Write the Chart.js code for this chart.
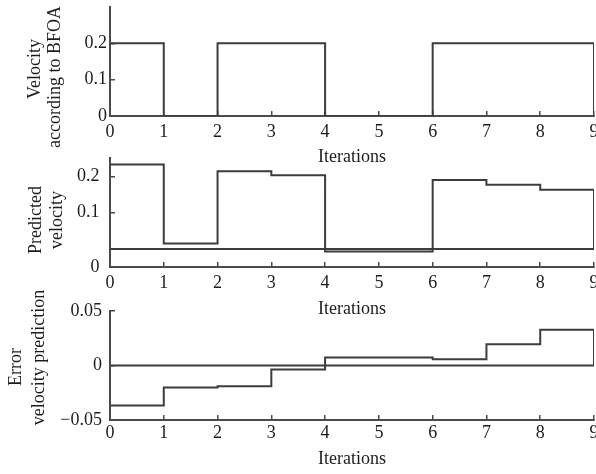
<!DOCTYPE html>
<html>
<head>
<meta charset="utf-8">
<script src="https://cdn.jsdelivr.net/npm/chart.js@4/dist/chart.umd.min.js"></script>
<style>
  html, body { margin: 0; padding: 0; background: #ffffff; }
  #wrap { position: relative; width: 596px; height: 474px; overflow: hidden; background: #ffffff; }
  #wrap canvas { position: absolute; left: 0; }
</style>
</head>
<body>
<div id="wrap">
  <canvas id="c1" width="596" height="168" style="top:0px;width:596px;height:168px"></canvas>
  <canvas id="c2" width="596" height="170" style="top:150px;width:596px;height:170px"></canvas>
  <canvas id="c3" width="596" height="185" style="top:285px;width:596px;height:185px"></canvas>
</div>
<script>
// ---- data ----
const iterations = [0, 1, 2, 3, 4, 5, 6, 7, 8, 9];
const xTickLabels = ['0', '1', '2', '3', '4', '5', '6', '7', '8', '9'];
const bfoaVelocity = [0.2, 0, 0.2, 0.2, 0, 0, 0.2, 0.2, 0.2, 0];
const predictedVelocity = [0.233, 0.015, 0.214, 0.203, -0.007, -0.007, 0.19, 0.177, 0.163, 0];
const predictionError = [-0.0367, -0.0202, -0.019, -0.0037, 0.0073, 0.0073, 0.0058, 0.0195, 0.0327, 0];
const zeroLine = [0, 0, 0, 0, 0, 0, 0, 0, 0, 0];
const topTickValues = [0, 0.1, 0.2];
const topTickLabels = ['0', '0.1', '0.2'];
const midTickValues = [-0.05, 0.1, 0.2];
const midTickLabels = ['0', '0.1', '0.2'];
const errTickValues = [-0.05, 0, 0.05];
const errTickLabels = ['\u22120.05', '0', '0.05'];
const xTitle = 'Iterations';
const topYTitle = ['Velocity', 'according to BFOA'];
const midYTitle = ['Predicted', 'velocity'];
const errYTitle = ['Error', 'velocity prediction'];

// ---- styles ----
const FONT = { family: "'Liberation Serif', 'DejaVu Serif', serif", size: 18, lineHeight: 1.2 };
const TEXT = '#1c1c1c';
const LINE = '#3c3c3c';
const AXIS = '#4a4a4a';

const yTitlePlugin = {
  id: 'ytitles',
  afterDraw(chart, args, opts) {
    const ctx = chart.ctx;
    ctx.save();
    ctx.font = FONT.size + 'px ' + FONT.family;
    ctx.fillStyle = TEXT;
    ctx.textAlign = 'center';
    ctx.textBaseline = 'middle';
    opts.lines.forEach((t, i) => {
      ctx.save();
      ctx.translate(opts.pos[i][0], opts.pos[i][1]);
      ctx.rotate(-Math.PI / 2);
      ctx.fillText(t, 0, 0);
      ctx.restore();
    });
    ctx.restore();
  }
};

function makePanel(id, cfg) {
  const canvas = document.getElementById(id);
  const datasets = cfg.series.map(s => ({
    data: iterations.map((x, i) => ({ x: x, y: s[i] })),
    stepped: true,
    borderColor: LINE,
    borderWidth: 2,
    pointRadius: 0,
    fill: false
  }));
  return new Chart(canvas, {
    type: 'line',
    data: { datasets: datasets },
    plugins: [yTitlePlugin],
    options: {
      responsive: false,
      animation: false,
      devicePixelRatio: 1,
      layout: { padding: { top: cfg.padTop, left: 0, right: 2, bottom: 0 } },
      plugins: {
        legend: { display: false },
        tooltip: { enabled: false },
        ytitles: { lines: cfg.yTitle, pos: cfg.yTitlePos }
      },
      scales: {
        x: {
          type: 'linear',
          min: 0,
          max: 9,
          afterBuildTicks: s => { s.ticks = iterations.map(v => ({ value: v })); },
          ticks: {
            autoSkip: false,
            maxRotation: 0,
            color: TEXT,
            font: FONT,
            padding: cfg.xPad,
            callback: (v, i) => xTickLabels[i]
          },
          grid: { drawOnChartArea: false, drawTicks: true, tickLength: -5, color: AXIS, lineWidth: 1.5 },
          border: { display: true, color: AXIS, width: 2 },
          title: { display: true, text: xTitle, color: TEXT, font: FONT, padding: 0 },
          afterFit: s => { s.height = cfg.xHeight; s.paddingLeft = 0; s.paddingRight = 0; }
        },
        y: {
          type: 'linear',
          min: cfg.yMin,
          max: cfg.yMax,
          afterBuildTicks: s => { s.ticks = cfg.tickValues.map(v => ({ value: v })); },
          ticks: {
            autoSkip: false,
            color: TEXT,
            font: FONT,
            padding: cfg.yPad,
            callback: (v, i) => cfg.tickLabels[i]
          },
          grid: { drawOnChartArea: false, drawTicks: true, tickLength: -5, color: AXIS, lineWidth: 1.5 },
          border: { display: true, color: AXIS, width: 2 },
          afterFit: s => { s.width = 110; s.paddingTop = 0; s.paddingBottom = 0; }
        }
      }
    }
  });
}

makePanel('c1', {
  series: [bfoaVelocity],
  padTop: 7, xHeight: 52, xPad: 10.7, yPad: 8,
  yMin: 0, yMax: 0.3,
  tickValues: topTickValues, tickLabels: topTickLabels,
  yTitle: topYTitle, yTitlePos: [[35.5, 69], [55.5, 77]]
});

makePanel('c2', {
  series: [zeroLine, predictedVelocity],
  padTop: 8.3, xHeight: 53, xPad: 10.7, yPad: 15.5,
  yMin: -0.05, yMax: 0.25,
  tickValues: midTickValues, tickLabels: midTickLabels,
  yTitle: midYTitle, yTitlePos: [[36, 70], [57.5, 70]]
});

makePanel('c3', {
  series: [zeroLine, predictionError],
  padTop: 26, xHeight: 50, xPad: 7.2, yPad: 13,
  yMin: -0.05, yMax: 0.05,
  tickValues: errTickValues, tickLabels: errTickLabels,
  yTitle: errYTitle, yTitlePos: [[16, 82], [39.5, 72.5]]
});
</script>
</body>
</html>
